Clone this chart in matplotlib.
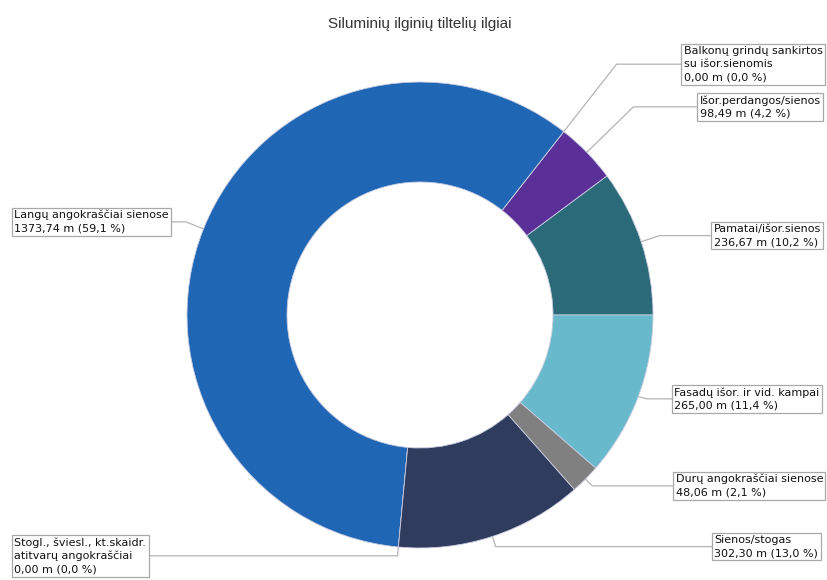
import numpy as np
import matplotlib
matplotlib.use("Agg")
from matplotlib import pyplot as plt

# slices, counterclockwise from 3 o'clock
labels = [
    "Pamatai/išor.sienos",
    "Išor.perdangos/sienos",
    "Balkonų grindų sankirtos\nsu išor.sienomis",
    "Langų angokraščiai sienose",
    "Stogl., šviesl., kt.skaidr.\natitvarų angokraščiai",
    "Sienos/stogas",
    "Durų angokraščiai sienose",
    "Fasadų išor. ir vid. kampai",
]
values = [236.67, 98.49, 0.00, 1373.74, 0.00, 302.30, 48.06, 265.00]
colors = ["#2b6a78", "#5b2f98", "#1f66b5", "#1f66b5", "#2f3c5e",
          "#2f3c5e", "#808080", "#68b9cc"]

# label box top-left corners (pixels from top-left)
box_pos = [(711, 222), (697, 93), (681, 44), (12, 208),
           (12, 535), (712, 533), (673, 472), (672, 385)]

W, H = 827, 580
cx, cy, R = 420, 315, 233  # pie centre and radius in pixels

fig = plt.figure(figsize=(W / 100, H / 100), dpi=100)
ax = fig.add_axes([0, 0, 1, 1])

wedges, _ = ax.pie(values, colors=colors, startangle=0, counterclock=True,
                   radius=1, wedgeprops=dict(width=1 - 133 / R,
                                             edgecolor="#c9cbe0",
                                             linewidth=0.6))
ax.set_aspect("auto")
ax.set_xlim(-cx / R, (W - cx) / R)
ax.set_ylim(-(H - cy) / R, cy / R)
ax.axis("off")

total = sum(values)


def fmt(v):
    return "{:.2f}".format(v).replace(".", ",")


fig.canvas.draw()
inv = ax.transData.inverted()
for i, w in enumerate(wedges):
    ang = np.deg2rad((w.theta1 + w.theta2) / 2)
    x0, y0 = np.cos(ang), np.sin(ang)
    bx, by = box_pos[i]
    pct = "{:.1f}".format(values[i] / total * 100).replace(".", ",")
    text = "{}\n{} m ({} %)".format(labels[i], fmt(values[i]), pct)
    t = ax.text(bx + 2.5, H - by - 2, text, transform=None,
                ha="left", va="top", fontsize=8, linespacing=1.4,
                color="#111111", family="DejaVu Sans",
                bbox=dict(boxstyle="square,pad=0.2", facecolor="white",
                          edgecolor="#a8a8a8", linewidth=0.9))
    fig.canvas.draw()
    bb = t.get_bbox_patch().get_window_extent()
    if x0 >= 0:
        ex = inv.transform((bb.x0, 0))[0]
    else:
        ex = inv.transform((bb.x1, 0))[0]
    # leader meets the box half way down
    ly = inv.transform((0, (bb.y0 + bb.y1) / 2))[1]
    ext = max((ly - y0) / y0 if abs(y0) > 1e-6 else 0.06, 0.04)
    x1, y1 = x0 * (1 + ext), y0 * (1 + ext)
    ax.plot([x0, x1, ex], [y0, ly, ly], color="#b4b4b4", lw=0.9,
            zorder=0.5)

fig.text(cx / W, 1 - 24 / H, "Siluminių ilginių tiltelių ilgiai",
         ha="center", va="center", fontsize=11, color="#333333",
         family="Liberation Sans")

fig.savefig("out.png", dpi=100)
